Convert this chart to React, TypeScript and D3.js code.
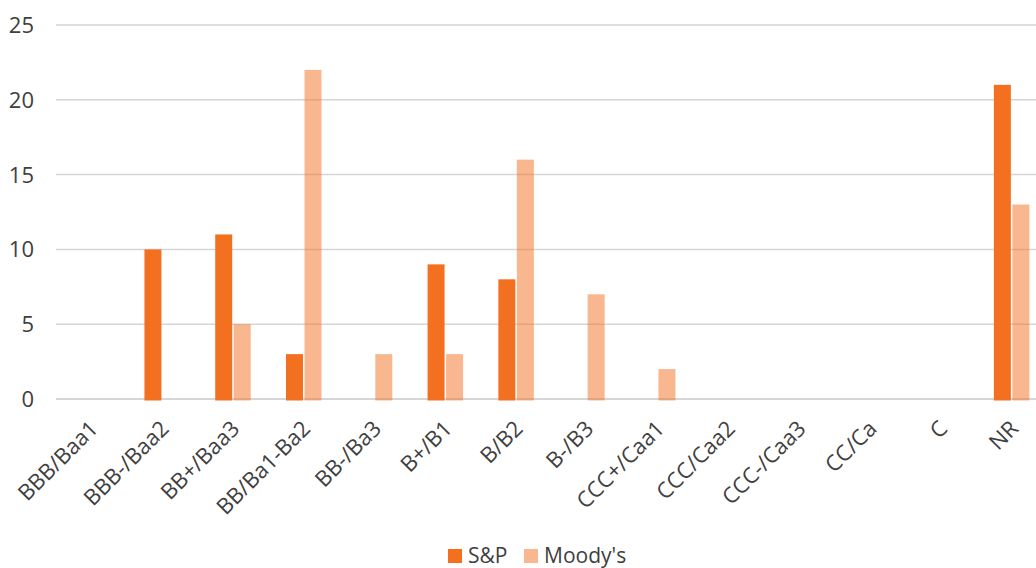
import React from "react";
import * as d3 from "d3";

const categories = [
  "BBB/Baa1", "BBB-/Baa2", "BB+/Baa3", "BB/Ba1-Ba2", "BB-/Ba3", "B+/B1", "B/B2",
  "B-/B3", "CCC+/Caa1", "CCC/Caa2", "CCC-/Caa3", "CC/Ca", "C", "NR",
];
const spValues = [0, 10, 11, 3, 0, 9, 8, 0, 0, 0, 0, 0, 0, 21];
const moodysValues = [0, 0, 5, 22, 3, 3, 16, 7, 2, 0, 0, 0, 0, 13];
const yTicks = [0, 5, 10, 15, 20, 25];
const seriesNames = ["S&P", "Moody's"];

const W = 1036;
const H = 568;
const FONT = "'Open Sans', 'Noto Sans', sans-serif";
const ORANGE = "#F37021";
const TEXT = "#404040";

export default function App() {
  const left = 56;
  const right = 1047;
  const top = 25;
  const bottom = 399;

  const x = d3.scaleBand<string>().domain(categories).range([left, right]);
  const y = d3.scaleLinear().domain([0, 25]).range([bottom, top]);
  const barW = 17;
  const gap = 1.5;

  const series = [
    { name: seriesNames[0], values: spValues, opacity: 1, offset: -gap / 2 - barW },
    { name: seriesNames[1], values: moodysValues, opacity: 0.5, offset: gap / 2 },
  ];

  return (
    <svg width={W} height={H} style={{ position: "absolute", left: 0, top: 0, background: "#fff" }}>
      {yTicks.map((t) => (
        <g key={t}>
          <line x1={left} x2={W} y1={y(t)} y2={y(t)} stroke="#d6d6d6" strokeWidth={t === 0 ? 2 : 1.5} />
          <text x={34} y={y(t)} dy="0.36em" textAnchor="end" fontFamily={FONT} fontSize={22} fill={TEXT}>
            {t}
          </text>
        </g>
      ))}
      {series.map((s) =>
        categories.map((c, i) => {
          const v = s.values[i];
          if (!v) return null;
          const cx = (x(c) as number) + x.bandwidth() / 2;
          return (
            <rect
              key={s.name + c}
              x={cx + s.offset}
              y={y(v)}
              width={barW}
              height={y(0) - y(v) + 1.5}
              fill={ORANGE}
              fillOpacity={s.opacity}
            />
          );
        })
      )}
      {categories.map((c) => {
        const cx = (x(c) as number) + x.bandwidth() / 2;
        return (
          <text
            key={c}
            transform={`translate(${cx + 8},${430}) rotate(-45)`}
            textAnchor="end"
            fontFamily={FONT}
            fontSize={22}
            fill={TEXT}
          >
            {c}
          </text>
        );
      })}
      <g>
        <rect x={448} y={549} width={14} height={14} fill={ORANGE} />
        <text x={468} y={563} fontFamily={FONT} fontSize={21} fill={TEXT}>{seriesNames[0]}</text>
        <rect x={524} y={549} width={14} height={14} fill={ORANGE} fillOpacity={0.5} />
        <text x={544} y={563} fontFamily={FONT} fontSize={21} fill={TEXT}>{seriesNames[1]}</text>
      </g>
    </svg>
  );
}
